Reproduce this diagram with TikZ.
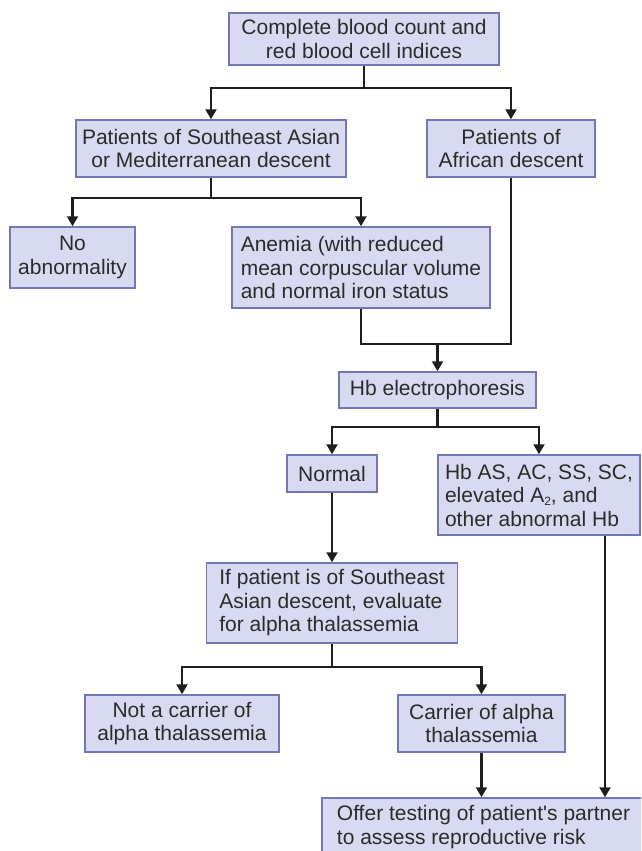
\documentclass[tikz,border=0pt]{standalone}
\usepackage{fontspec}
\setmainfont{Liberation Sans}
\usetikzlibrary{arrows.meta}
\definecolor{boxfill}{HTML}{D8DAF1}
\definecolor{boxline}{HTML}{7378B4}
\definecolor{txt}{HTML}{2B2B2B}
\definecolor{wire}{HTML}{1E1E1E}
\newcommand{\smallsub}[1]{\raisebox{-3pt}{\fontsize{12}{12}\selectfont #1}}
\tikzset{
  box/.style={draw=boxline, fill=boxfill, line width=1.5pt, inner sep=0pt,
    text=txt, font=\fontsize{21}{23.5}\selectfont},
  cbox/.style={box, align=center},
  lbox/.style={box, align=left},
  wireline/.style={draw=wire, line width=2.2pt},
  flow/.style={wireline, -{Triangle[width=11pt,length=10pt]}}
}
\begin{document}
\begin{tikzpicture}[x=1pt,y=-1pt]
\useasboundingbox (0,0) rectangle (641,851);
\clip (0,0) rectangle (641,851);

% boxes: centre, width, height in pixels of the 641 x 851 frame
\node[cbox, minimum width=270pt, minimum height=52pt] (cbc) at (364,39)
  {Complete blood count and\\red blood cell indices};
\node[cbox, minimum width=270pt, minimum height=57pt] (sea) at (211,148.5)
  {Patients of Southeast Asian\\or Mediterranean descent};
\node[cbox, minimum width=168pt, minimum height=57pt] (afr) at (511,148.5)
  {Patients of\\African descent};
\node[cbox, minimum width=125pt, minimum height=61pt] (noab) at (72.5,257.5)
  {No\\abnormality};
\node[lbox, minimum width=258pt, minimum height=81pt] (anem) at (361,267.5)
  {Anemia (with reduced\\mean corpuscular volume\\and normal iron status};
\node[cbox, minimum width=197pt, minimum height=36pt] (hbe) at (437.5,390)
  {Hb electrophoresis};
\node[cbox, minimum width=90pt, minimum height=37pt] (norm) at (332,473.5)
  {Normal};
\node[lbox, minimum width=202pt, minimum height=80pt] (hbas) at (539,495)
  {Hb AS, AC, SS, SC,\\elevated A\smallsub{2}, and\\other abnormal Hb};
\node[lbox, minimum width=251pt, minimum height=80pt] (ifb) at (332,603)
  {If patient is of Southeast\\Asian descent, evaluate\\for alpha thalassemia};
\node[cbox, minimum width=194pt, minimum height=57pt] (notc) at (182,723.5)
  {Not a carrier of\\alpha thalassemia};
\node[cbox, minimum width=167pt, minimum height=57pt] (carr) at (481.5,723.5)
  {Carrier of alpha\\thalassemia};
\node[lbox, minimum width=323pt, minimum height=58pt] (offer) at (483.5,827)
  {Offer testing of patient\textquotesingle s partner\\to assess reproductive risk};

% junction points of the branching connectors
\coordinate (j1) at (364,88);
\path (sea.south) ++(0,20) coordinate (j2);
\coordinate (m) at (437.5,344);
\path (hbe.south) ++(0,18) coordinate (j3);
\path (ifb.south) ++(0,23) coordinate (j4);
\path (hbas.south) ++(66,0) coordinate (hbout);

% connectors
\draw[wireline] (cbc.south) -- (j1);
\draw[flow] (j1) -| (sea.north);
\draw[flow] (j1) -| (afr.north);

\draw[wireline] (sea.south) -- (j2);
\draw[flow] (j2) -| (noab.north);
\draw[flow] (j2) -| (anem.north);

\draw[wireline] (anem.south) |- (m) -| (afr.south);
\draw[flow] (m) -- (hbe.north);

\draw[wireline] (hbe.south) -- (j3);
\draw[flow] (j3) -| (norm.north);
\draw[flow] (j3) -| (hbas.north);

\draw[flow] (norm.south) -- (ifb.north);

\draw[wireline] (ifb.south) -- (j4);
\draw[flow] (j4) -| (notc.north);
\draw[flow] (j4) -| (carr.north);

\draw[flow] (carr.south) -- (carr.south |- offer.north);
\draw[flow] (hbout) -- (hbout |- offer.north);
\end{tikzpicture}
\end{document}
